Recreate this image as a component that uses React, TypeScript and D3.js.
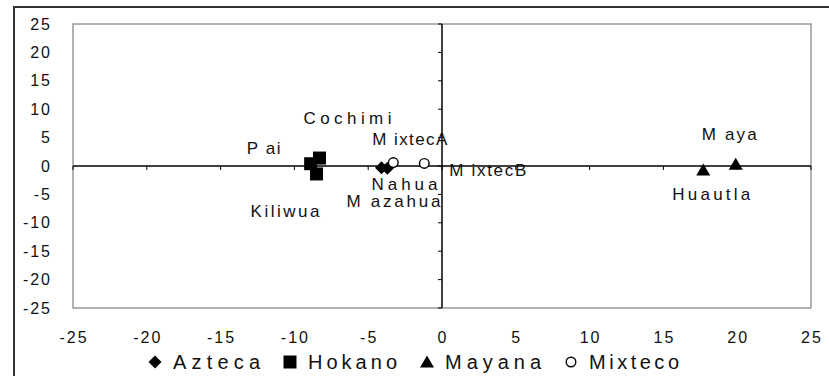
import React from 'react'
import * as d3 from 'd3'

// points (dimension 1, dimension 2)
const azteca = [
  { name: 'Nahua', x: -4.1, y: -0.3 },
  { name: 'Mazahua', x: -3.7, y: -0.4 },
]
const hokano = [
  { name: 'Pai', x: -8.9, y: 0.4 },
  { name: 'Cochimi', x: -8.3, y: 1.4 },
  { name: 'Kiliwua', x: -8.5, y: -1.4 },
]
const mayana = [
  { name: 'Huautla', x: 17.7, y: -0.7 },
  { name: 'Maya', x: 19.9, y: 0.3 },
]
const mixteco = [
  { name: 'MixtecA', x: -3.3, y: 0.6 },
  { name: 'MixtecB', x: -1.2, y: 0.45 },
]

const seriesNames = ['Azteca', 'Hokano', 'Mayana', 'Mixteco']
const seriesData = [azteca, hokano, mayana, mixteco]
const ticks = [-25, -20, -15, -10, -5, 0, 5, 10, 15, 20, 25]

// label text as shown, offset from the point, stretched width
const labelText: Record<string, [string, number, number, number]> = {
  Nahua: ['Nahua', -10, 22, 66],
  Mazahua: ['M azahua', -41, 39, 94],
  Pai: ['P ai', -64, -10, 34],
  Cochimi: ['Cochimi', -16, -34, 88],
  Kiliwua: ['Kiliwua', -66, 43, 69],
  Huautla: ['Huautla', -31, 30, 78],
  Maya: ['M aya', -34, -24, 55],
  MixtecA: ['M ixtecA', -21, -18, 75],
  MixtecB: ['M ixtecB', 25, 13, 77],
}
const legendWidths = [87, 89, 96, 90]

const W = 829, H = 376
const font = '"Liberation Sans", Arial, sans-serif'

function Marker({ kind, cx, cy }: { kind: number; cx: number; cy: number }) {
  if (kind === 0) {
    const s = 6.5
    return <path d={`M${cx},${cy - s}L${cx + s},${cy}L${cx},${cy + s}L${cx - s},${cy}Z`} fill="#000" />
  }
  if (kind === 1) return <rect x={cx - 6.5} y={cy - 6.5} width={13} height={13} fill="#000" />
  if (kind === 2) return <path d={`M${cx},${cy - 6.5}L${cx + 7},${cy + 5.5}L${cx - 7},${cy + 5.5}Z`} fill="#000" />
  return <circle cx={cx} cy={cy} r={4.8} fill="#fff" stroke="#000" strokeWidth={1.4} />
}

export default function App() {
  const x = d3.scaleLinear().domain([-25, 25]).range([73, 811])
  const y = d3.scaleLinear().domain([-25, 25]).range([308, 24])
  const x0 = x(0), y0 = y(0)

  // legend layout
  let cursor = 155
  const legend = seriesNames.map((n, i) => {
    const item = { name: n, kind: i, mx: cursor, tx: cursor + 18, w: legendWidths[i] }
    cursor = item.tx + item.w + 30
    return item
  })

  return (
    <svg width={W} height={H} style={{ position: 'absolute', left: 0, top: 0, display: 'block', background: '#fff' }}
      fontFamily={font}>
      <rect x={14} y={7} width={W + 10} height={H + 10} fill="#fff" stroke="#333" strokeWidth={2} />
      <rect x={73} y={24} width={738} height={284} fill="#fff" stroke="#999" strokeWidth={1.5} />

      <line x1={73} x2={811} y1={y0} y2={y0} stroke="#000" strokeWidth={1.5} />
      <line x1={x0} x2={x0} y1={24} y2={308} stroke="#000" strokeWidth={1.5} />
      {ticks.map(t => (
        <g key={'t' + t}>
          <line x1={x(t)} x2={x(t)} y1={y0} y2={y0 + 4} stroke="#000" strokeWidth={1} />
          <line x1={x0 - 4} x2={x0} y1={y(t)} y2={y(t)} stroke="#000" strokeWidth={1} />
          <text x={x(t) + 1} y={343} textAnchor="middle" fontSize={16} letterSpacing={2} fill="#111">{t}</text>
          <text x={52} y={y(t) + 5.5} textAnchor="end" fontSize={16} letterSpacing={2} fill="#111">{t}</text>
        </g>
      ))}

      {seriesData.map((pts, si) => pts.map(p => {
        const [txt, dx, dy, w] = labelText[p.name]
        return (
          <g key={p.name}>
            <Marker kind={si} cx={x(p.x)} cy={y(p.y)} />
            <text x={x(p.x) + dx} y={y(p.y) + dy} fontSize={17} textLength={w} lengthAdjust="spacing" fill="#111">{txt}</text>
          </g>
        )
      }))}

      {legend.map(l => (
        <g key={l.name}>
          <Marker kind={l.kind} cx={l.mx} cy={362} />
          <text x={l.tx} y={369} fontSize={20} textLength={l.w} lengthAdjust="spacing" fill="#111">{l.name}</text>
        </g>
      ))}
    </svg>
  )
}
